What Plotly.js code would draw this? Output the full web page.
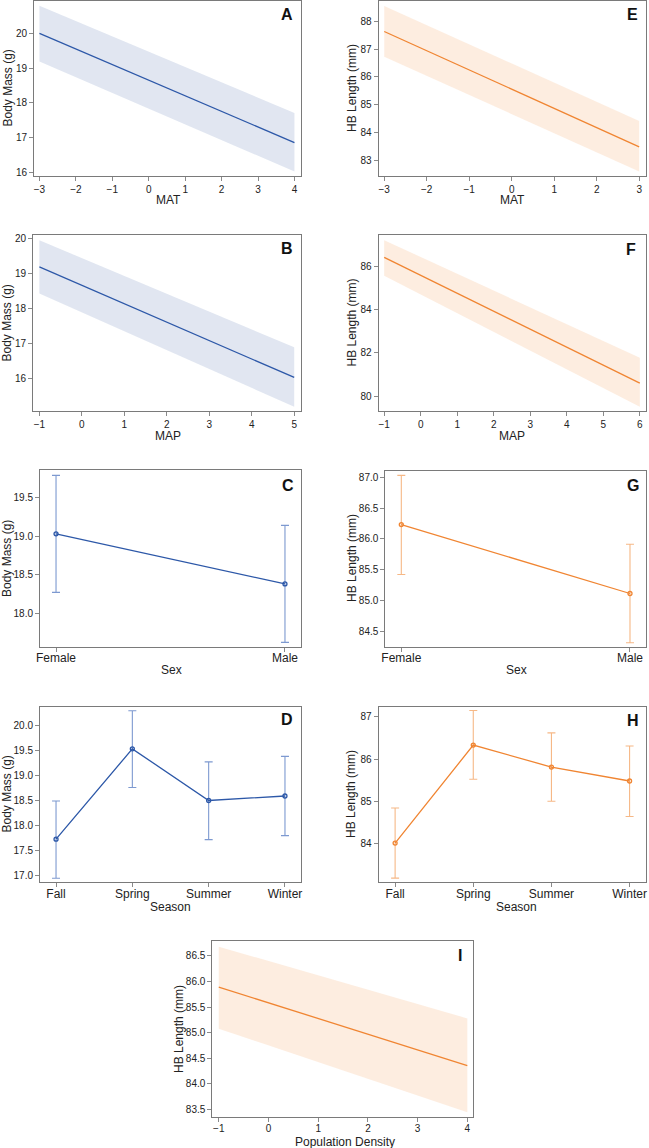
<!DOCTYPE html>
<html>
<head>
<meta charset="utf-8">
<script src="https://cdn.plot.ly/plotly-3.0.1.min.js"></script>
<style>html,body{margin:0;padding:0;background:#fff;}#chart{width:649px;height:1148px;}</style>
</head>
<body>
<div id="chart"></div>
<script>
// ---- Data ----
// A: Body mass vs MAT
const matXA = [-3, 4];
const massMatFit = [20.00, 16.86];
const massMatLo = [19.19, 16.03];
const massMatHi = [20.79, 17.71];
// B: Body mass vs MAP
const mapXB = [-1, 5];
const massMapFit = [19.19, 16.03];
const massMapLo = [18.43, 15.19];
const massMapHi = [19.95, 16.89];
// C: Body mass by sex
const sexCats = ["Female", "Male"];
const massSex = [19.03, 18.38];
const massSexLo = [18.27, 17.62];
const massSexHi = [19.79, 19.14];
// D: Body mass by season
const seasonCats = ["Fall", "Spring", "Summer", "Winter"];
const massSeason = [17.73, 19.53, 18.50, 18.59];
const massSeasonLo = [16.95, 18.76, 17.72, 17.80];
const massSeasonHi = [18.49, 20.29, 19.27, 19.38];
// E: HB length vs MAT
const matXE = [-3, 3];
const hbMatFit = [87.64, 83.48];
const hbMatLo = [86.73, 82.59];
const hbMatHi = [88.56, 84.41];
// F: HB length vs MAP
const mapXF = [-1, 6];
const hbMapFit = [86.42, 80.61];
const hbMapLo = [85.57, 79.52];
const hbMapHi = [87.21, 81.78];
// G: HB length by sex
const hbSex = [86.23, 85.11];
const hbSexLo = [85.42, 84.31];
const hbSexHi = [87.03, 85.91];
// H: HB length by season
const hbSeason = [84.01, 86.33, 85.81, 85.48];
const hbSeasonLo = [83.18, 85.52, 85.00, 84.64];
const hbSeasonHi = [84.84, 87.15, 86.62, 86.31];
// I: HB length vs population density
const densX = [-1, 4];
const hbDensFit = [85.89, 84.36];
const hbDensLo = [85.08, 83.45];
const hbDensHi = [86.68, 85.28];

const panelLetters = ["A", "B", "C", "D", "E", "F", "G", "H", "I"];
const yTitles = ["Body Mass (g)", "Body Mass (g)", "Body Mass (g)", "Body Mass (g)",
                 "HB Length (mm)", "HB Length (mm)", "HB Length (mm)", "HB Length (mm)", "HB Length (mm)"];
const xTitles = ["MAT", "MAP", "Sex", "Season", "MAT", "MAP", "Sex", "Season", "Population Density"];

// ---- Styles ----
const W = 649, H = 1148;
const FONT = "Liberation Sans, Arial, Helvetica, sans-serif";
const BLUE = "#2d58a8", BLUE_ERR = "#7d99d0", BLUE_BAND = "rgba(205,214,232,0.6)";
const ORANGE = "#f08532", ORANGE_ERR = "#f6b886", ORANGE_BAND = "rgba(252,222,198,0.55)";

function sub(n) { return n === 1 ? "" : String(n); }

const traces = [];
function band(n, xs, lo, hi, fill, line, fit) {
  const bx = xs.concat(xs.slice().reverse());
  const by = hi.concat(lo.slice().reverse());
  traces.push({x: bx, y: by, xaxis: "x" + sub(n), yaxis: "y" + sub(n), type: "scatter", mode: "lines",
    fill: "toself", fillcolor: fill, line: {width: 0, color: fill}, hoverinfo: "skip", showlegend: false});
  traces.push({x: xs, y: fit, xaxis: "x" + sub(n), yaxis: "y" + sub(n), type: "scatter", mode: "lines",
    line: {color: line, width: 1.3}, showlegend: false});
}
function cat(n, cats, y, lo, hi, line, err) {
  traces.push({x: cats, y: y, xaxis: "x" + sub(n), yaxis: "y" + sub(n), type: "scatter", mode: "lines+markers",
    line: {color: line, width: 1.3},
    marker: {symbol: "circle-open", size: 4, color: line, line: {width: 1.3, color: line}},
    error_y: {type: "data", symmetric: false,
      array: hi.map((v, i) => v - y[i]), arrayminus: y.map((v, i) => v - lo[i]),
      color: err, thickness: 1.1, width: 4},
    showlegend: false});
}
band(1, matXA, massMatLo, massMatHi, BLUE_BAND, BLUE, massMatFit);
band(2, mapXB, massMapLo, massMapHi, BLUE_BAND, BLUE, massMapFit);
cat(3, sexCats, massSex, massSexLo, massSexHi, BLUE, BLUE_ERR);
cat(4, seasonCats, massSeason, massSeasonLo, massSeasonHi, BLUE, BLUE_ERR);
band(5, matXE, hbMatLo, hbMatHi, ORANGE_BAND, ORANGE, hbMatFit);
band(6, mapXF, hbMapLo, hbMapHi, ORANGE_BAND, ORANGE, hbMapFit);
cat(7, sexCats, hbSex, hbSexLo, hbSexHi, ORANGE, ORANGE_ERR);
cat(8, seasonCats, hbSeason, hbSeasonLo, hbSeasonHi, ORANGE, ORANGE_ERR);
band(9, densX, hbDensLo, hbDensHi, ORANGE_BAND, ORANGE, hbDensFit);

// panel boxes in px: [left, right, top, bottom]
const boxes = [
  [34, 301, 1, 176],      // A
  [33, 301, 235, 411],    // B
  [40, 301, 470, 647],    // C
  [40, 301, 706.7, 882.3],// D
  [378.7, 646, 1, 175.7], // E
  [378.7, 646, 235, 411], // F
  [385.3, 646, 470.5, 647],// G
  [378.7, 646, 706.7, 882.3],// H
  [212.3, 473.3, 941, 1117.3] // I
];
const xr = [[-3.15, 4.18], [-1.15, 5.16], [-0.07, 1.07], [-0.21, 3.21], [-3.13, 3.16], [-1.15, 6.17], [-0.07, 1.07], [-0.21, 3.21], [-1.13, 4.12]];
const yr = [[15.9, 20.93], [15.07, 20.1], [17.56, 19.86], [16.87, 20.37], [82.44, 88.74], [79.32, 87.45], [84.24, 87.11], [83.08, 87.24], [83.35, 86.79]];
const ydt = [1, 1, 0.5, 0.5, 1, 2, 0.5, 1, 0.5];
const yfmt = ["d", "d", ".1f", ".1f", "d", "d", ".1f", "d", ".1f"];
const isCat = [false, false, true, true, false, false, true, true, false];
const xStandoff = [0, 0, -4, -4, 0, 0, -4, -4, -2];

const layout = {
  width: W, height: H, margin: {l: 0, r: 0, t: 0, b: 0},
  paper_bgcolor: "#fff", plot_bgcolor: "#fff", showlegend: false,
  font: {family: FONT, color: "#222"},
  annotations: []
};
const axBase = {showline: true, mirror: true, linecolor: "#7a7a7a", linewidth: 1,
  ticks: "outside", ticklen: 4, tickwidth: 1, tickcolor: "#8a8a8a",
  showgrid: false, zeroline: false, fixedrange: true};

for (let i = 0; i < 9; i++) {
  const n = i + 1, b = boxes[i];
  const xa = Object.assign({}, axBase, {
    domain: [b[0] / W, b[1] / W], anchor: "y" + sub(n), range: xr[i],
    ticklabelstandoff: xStandoff[i],
    tickfont: {size: isCat[i] ? 12 : 10, color: "#222", family: FONT}
  });
  if (isCat[i]) { xa.type = "category"; } else { xa.dtick = 1; xa.tick0 = 0; }
  const ya = Object.assign({}, axBase, {
    domain: [1 - b[3] / H, 1 - b[2] / H], anchor: "x" + sub(n), range: yr[i],
    dtick: ydt[i], tick0: 0, tickformat: yfmt[i],
    tickfont: {size: 10, color: "#222", family: FONT}
  });
  layout["xaxis" + sub(n)] = xa;
  layout["yaxis" + sub(n)] = ya;
}

// annotations: panel letters, axis titles (px positions)
const letterPos = [[287, 15], [287, 249], [287.5, 485.5], [287, 719.5], [632, 15], [631, 250], [632.5, 485.5], [632.5, 720], [459.5, 955.5]];
const xTitlePos = [[168, 199.5], [168, 435.5], [171, 670], [170, 906.5], [512, 200], [512, 435.5], [516, 670], [516, 906.5], [345, 1141.5]];
const yTitlePos = [[7, 88.5], [6.5, 323], [6.5, 558.5], [7, 794.5], [351.5, 88.5], [351.5, 323], [351.5, 558.5], [351.5, 794.5], [179, 1029]];
function ann(text, p, opts) {
  layout.annotations.push(Object.assign({text: text, xref: "paper", yref: "paper",
    x: p[0] / W, y: 1 - p[1] / H, xanchor: "center", yanchor: "middle", showarrow: false}, opts));
}
for (let i = 0; i < 9; i++) {
  ann("<b>" + panelLetters[i] + "</b>", letterPos[i], {font: {size: 16, color: "#111", family: FONT}});
  ann(xTitles[i], xTitlePos[i], {font: {size: 12, color: "#222", family: FONT}});
  ann(yTitles[i], yTitlePos[i], {textangle: -90, font: {size: 12, color: "#222", family: FONT}});
}

Plotly.newPlot("chart", traces, layout, {staticPlot: true, displayModeBar: false});
</script>
</body>
</html>
